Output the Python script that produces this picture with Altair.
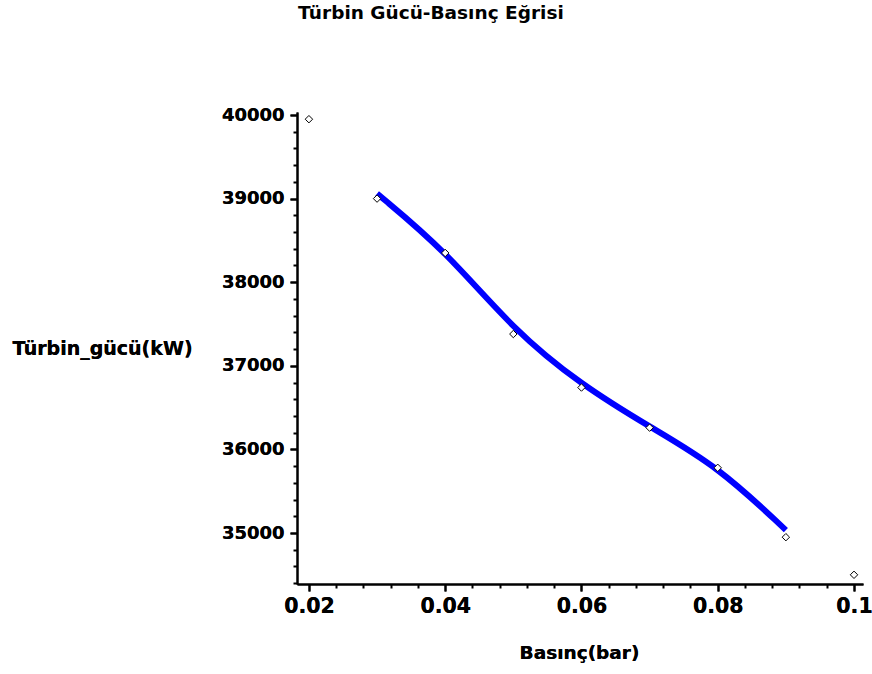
import altair as alt
import pandas as pd

# Data
basinc = [0.02, 0.03, 0.04, 0.05, 0.06, 0.07, 0.08, 0.09, 0.10]
guc = [39950, 39000, 38350, 37380, 36740, 36260, 35780, 34950, 34500]

egri_basinc = [0.03, 0.04, 0.05, 0.06, 0.07, 0.08, 0.09]
egri_guc = [39060, 38380, 37430, 36770, 36270, 35800, 35035]

x_major = [0.02, 0.04, 0.06, 0.08, 0.1]
x_minor = [0.024, 0.028, 0.032, 0.036, 0.044, 0.048, 0.052, 0.056,
           0.064, 0.068, 0.072, 0.076, 0.084, 0.088, 0.092, 0.096]
y_major = [35000, 36000, 37000, 38000, 39000, 40000]
y_minor = [v for v in range(34400, 40001, 200) if v % 1000 != 0]

FONT = "DejaVu Sans"

pts = pd.DataFrame({"x": basinc, "y": guc})
curve = pd.DataFrame({"x": egri_basinc, "y": egri_guc})

xscale = alt.Scale(domain=[0.01825, 0.10132], nice=False, zero=False)
yscale = alt.Scale(domain=[34390, 40036], nice=False, zero=False)

x_axis = alt.Axis(
    values=x_major, format="~g", orient="bottom",
    title="Basınç(bar)", titleFont=FONT, titleFontSize=18.5, titleFontWeight="bold",
    titleColor="black", titleAlign="center", titleBaseline="middle",
    titleX=282, titleY=68, titleAngle=0,
    labelFont=FONT, labelFontSize=20.5, labelFontWeight="bold", labelColor="black",
    labelPadding=5, labelBaseline="top",
    tickSize=7, tickWidth=2, tickColor="black",
    domainColor="black", domainWidth=2, grid=False,
)
y_axis = alt.Axis(
    values=y_major, format="d", orient="left",
    title="Türbin_gücü(kW)", titleFont=FONT, titleFontSize=19, titleFontWeight="bold",
    titleColor="black", titleAngle=0, titleAlign="left", titleBaseline="middle",
    titleX=-285, titleY=236,
    labelFont=FONT, labelFontSize=18, labelFontWeight="bold", labelColor="black",
    labelPadding=6, labelBaseline="middle",
    tickSize=7, tickWidth=2, tickColor="black",
    domainColor="black", domainWidth=2, grid=False,
)

x_axis_minor = alt.Axis(
    values=x_minor, labels=False, title=None, orient="bottom",
    tickSize=4, tickWidth=2, tickColor="black", domain=False, grid=False,
)
y_axis_minor = alt.Axis(
    values=y_minor, labels=False, title=None, orient="left",
    tickSize=4, tickWidth=2, tickColor="black", domain=False, grid=False,
)

line = alt.Chart(curve).mark_line(
    color="#0000ff", strokeWidth=6, interpolate="basis"
).encode(
    x=alt.X("x:Q", scale=xscale, axis=x_axis),
    y=alt.Y("y:Q", scale=yscale, axis=y_axis),
)

points = alt.Chart(pts).mark_point(
    shape="diamond", size=55, fill="white", stroke="black",
    strokeWidth=1, opacity=1, filled=False, fillOpacity=1
).encode(
    x=alt.X("x:Q", scale=xscale, axis=x_axis),
    y=alt.Y("y:Q", scale=yscale, axis=y_axis),
)

minor = alt.Chart(pts).mark_point(opacity=0).encode(
    x=alt.X("x:Q", scale=xscale, axis=x_axis_minor),
    y=alt.Y("y:Q", scale=yscale, axis=y_axis_minor),
)

chart = alt.layer(minor, line, points).resolve_axis(
    x="independent", y="independent"
).properties(
    width=566,
    height=472,
    autosize=alt.AutoSizeParams(type="none"),
    padding={"left": 297, "top": 112, "right": 9, "bottom": 90},
    background="white",
    title=alt.TitleParams(
        "Türbin Gücü-Basınç Eğrisi", anchor="start", frame="group",
        dx=1, offset=69, baseline="alphabetic",
        font=FONT, fontSize=18.5, fontWeight="bold", color="black",
    ),
).configure_view(stroke=None)

chart.save("out.html", embed_options={"renderer": "svg", "actions": False})
